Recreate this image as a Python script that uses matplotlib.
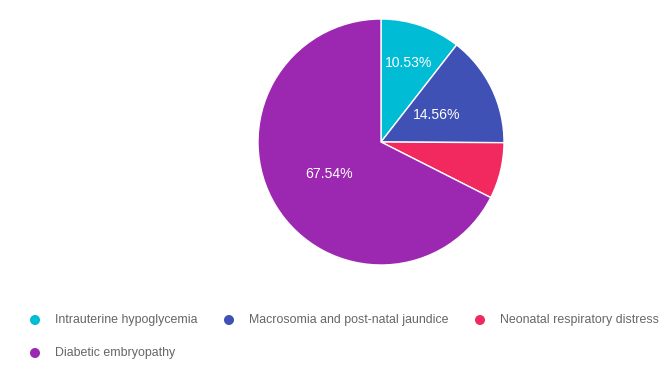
import matplotlib
matplotlib.use("Agg")
import matplotlib.pyplot as plt
import numpy as np

categories = ["Intrauterine hypoglycemia", "Macrosomia and post-natal jaundice",
              "Neonatal respiratory distress", "Diabetic embryopathy"]
values = [10.53, 14.56, 7.37, 67.54]
colors = ["#00BCD4", "#3F51B5", "#F2295F", "#9C27B0"]
label_dist = [0.68, 0.50, None, 0.50]

plt.rcParams['font.family'] = ['Liberation Sans', 'DejaVu Sans']
W, H, DPI = 672, 372, 100
fig = plt.figure(figsize=(W / DPI, H / DPI), dpi=DPI)

cx, cy, r = 381, 142, 123
ax = fig.add_axes([(cx - r) / W, (H - cy - r) / H, 2 * r / W, 2 * r / H])
wedges, _ = ax.pie(values, colors=colors, startangle=90, counterclock=False,
                   radius=1, wedgeprops=dict(edgecolor="white", linewidth=1))
ax.set_xlim(-1, 1)
ax.set_ylim(-1, 1)
ax.set_aspect("equal")
ax.axis("off")

total = sum(values)
for w, v, d in zip(wedges, values, label_dist):
    if d is None:
        continue
    ang = np.deg2rad((w.theta1 + w.theta2) / 2)
    ax.text(d * np.cos(ang), d * np.sin(ang), f"{v / total * 100:.2f}%",
            ha="center", va="center", color="white", fontsize=10.1)

# legend
lax = fig.add_axes([0, 0, 1, 1])
lax.set_xlim(0, W)
lax.set_ylim(H, 0)
lax.axis("off")
positions = [(35, 320), (229, 320), (480, 320), (35, 353)]
for (x, y), c, name in zip(positions, colors, categories):
    lax.scatter([x], [y], s=52, color=c, edgecolors="none")
    lax.text(x + 20, y, name, ha="left", va="center", color="#666666", fontsize=8.9)

fig.savefig("out.png", dpi=DPI, facecolor="white")
